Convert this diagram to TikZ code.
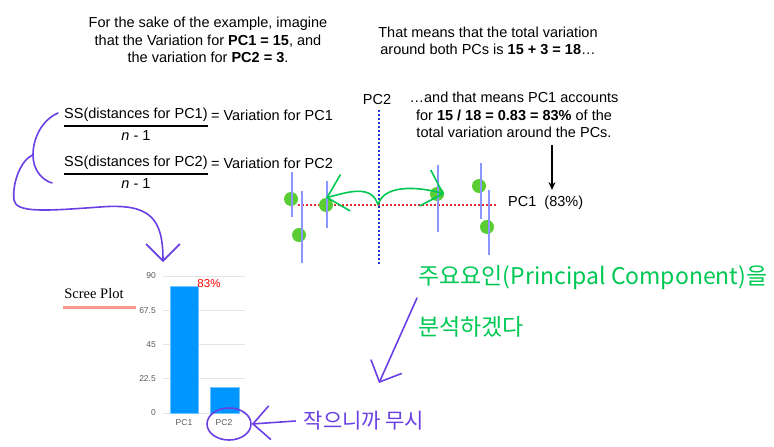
\documentclass[tikz,border=0pt]{standalone}
\usepackage{fontspec}
\setmainfont{Liberation Sans}
\newfontfamily\krfont{Noto Sans CJK KR}
\newfontfamily\screefont{Liberation Serif}
\usetikzlibrary{arrows.meta, positioning, calc, shapes.geometric}
\definecolor{C_DOT}{HTML}{5ACD32}
\definecolor{C_RES}{HTML}{8C96FF}
\definecolor{C_PCB}{HTML}{2233D8}
\definecolor{C_PCA}{HTML}{E03030}
\definecolor{C_PEN}{HTML}{00C853}
\definecolor{C_INK}{HTML}{6A3FE3}
\definecolor{C_BAR}{HTML}{0096FF}
\definecolor{C_SALMON}{HTML}{F59A8E}

\begin{document}
\begin{tikzpicture}[
  x=1pt, y=-1pt,
  txt/.style={inner sep=0pt, align=center, font=\fontsize{14.5}{17.5}\selectfont},
  pt/.style={circle, fill=C_DOT, minimum size=14pt, inner sep=0pt},
  res/.style={C_RES, line width=2.5pt},
  pcaxis/.style={line width=2pt, dash pattern=on 2pt off 2pt},
  axlab/.style={inner sep=0pt, font=\fontsize{8.5}{9}\selectfont, text=black!65},
  grid line/.style={black!10, line width=0.6pt},
  barfill/.style={fill=C_BAR, draw=C_BAR!55, line width=0.6pt},
  penarr/.style={C_PEN, line width=1.6pt, -{Straight Barb[scale=4]}},
  inkline/.style={C_INK, line width=1.6pt, line cap=round},
  inkarr/.style={inkline, -{Straight Barb[scale=3.6]}},
  blackarr/.style={-{Stealth[length=8pt, width=7pt]}, line width=1.6pt},
]
\useasboundingbox (0,0) rectangle (774,447);

%% Text at the top
\node[txt] (intro) at (208,40)
  {For the sake of the example, imagine\\
   that the Variation for \textbf{PC1 = 15}, and\\
   the variation for \textbf{PC2 = 3}.};
\node[txt] (total) at (488,41)
  {That means that the total variation\\
   around both PCs is \textbf{15 + 3 = 18}…};

%% The two fractions
\node[txt, anchor=west] (ss1) at (64,115) {SS(distances for PC1)};
\draw[line width=1.3pt] ($(ss1.south west)+(0,4)$) -- ($(ss1.south east)+(0,4)$);
\node[txt, below=8pt of ss1] (n1) {\textit{n} - 1};
\node[txt, right=3pt of ss1] (var1) {= Variation for PC1};

\node[txt, anchor=west] (ss2) at (64,163) {SS(distances for PC2)};
\draw[line width=1.3pt] ($(ss2.south west)+(0,4)$) -- ($(ss2.south east)+(0,4)$);
\node[txt, below=8pt of ss2] (n2) {\textit{n} - 1};
\node[txt, right=3pt of ss2] (var2) {= Variation for PC2};

%% The PCs
\node[txt] (pc2lab) at (377,100) {PC2};
\coordinate (pc2bot) at (379,266);
\draw[pcaxis, C_PCB] ([xshift=2pt, yshift=-5pt]pc2lab.south) -- (pc2bot);

\node[txt] (share) at (514,115)
  {…and that means PC1 accounts\\
   for \textbf{15 / 18 = 0.83 = 83\%} of the\\
   total variation around the PCs.};
\node[txt, anchor=west] (pc1lab) at (508,203) {PC1\ \ (83\%)};
\coordinate (pc1start) at (298,205);
\draw[pcaxis, C_PCA] (pc1start) -- ([xshift=-11pt]pc1start -| pc1lab.west);
\coordinate (sharefoot) at (552,145);
\draw[blackarr] (sharefoot) -- ([yshift=6pt]sharefoot |- pc1lab.north);

%% Points and their distances to PC1
\foreach \i/\px/\py in {1/291/199, 2/299/235, 3/326/205, 4/437/194, 5/479/186, 6/487/227}
  \node[pt] (p\i) at (\px,\py) {};
\foreach \lx/\ltop/\lbot in {292/172/217, 302/191/263, 327/181/228,
                             438/165/232, 481/163/219, 489/190/255}
  \draw[res] (\lx,\ltop) -- (\lx,\lbot);

%% Green arrows out from the origin
\coordinate (orig) at (378,205);
\draw[penarr] (orig) .. controls (372,184) and (348,192) .. (p3.north);
\draw[penarr] (orig) .. controls (384,182) and (425,188) .. (p4.east);

%% Scree plot
\node[inner sep=0pt, font=\screefont\fontsize{14.5}{16}\selectfont] (screetitle) at (94,294) {Scree Plot};
\draw[C_SALMON, line width=3pt] ($(screetitle.south west)+(-1,8)$) -- ++(73,0);
\foreach \v/\lab in {0/0, 22.5/22.5, 45/45, 67.5/67.5, 90/90} {
  \draw[grid line] (163,413-\v*1.522) -- (245,413-\v*1.522);
  \node[axlab, anchor=east] at (156,413-\v*1.522) {\lab};
}
\draw[barfill] (170,413) rectangle (198,413-83*1.522);
\draw[barfill] (210,413) rectangle (239,413-17*1.522);
\node[axlab] (xpc1) at (184,423) {PC1};
\node[axlab] (xpc2) at (224,423) {PC2};
\node[inner sep=0pt, text=red, font=\fontsize{11.5}{12}\selectfont] (pct) at (209,284) {83\%};

%% Purple ink
\coordinate (bracetop) at (58,113);
\coordinate (braceknot) at (33,155);
\coordinate (bracebot) at (52,183);
\coordinate (charttop) at (163,262);
\draw[inkline] (bracetop) .. controls (42,120) and (33,138) .. (braceknot)
  .. controls (33,170) and (42,180) .. (bracebot);
\draw[inkarr] (braceknot) .. controls (20,160) and (12,185) .. (14,200)
  .. controls (16,213) and (45,211) .. (100,207)
  .. controls (150,203) and (163,218) .. (charttop);

\node[draw=C_INK, line width=1.6pt, ellipse, minimum width=44pt, minimum height=32pt,
      inner sep=0pt] (ignore) at (229,424) {};
\node[inner sep=0pt, text=C_INK, font=\krfont\fontsize{21}{22}\selectfont] (ignoretxt) at (364,421) {작으니까 무시};
\draw[inkarr] ([xshift=-8pt]ignoretxt.west) -- (ignore.east);

%% Green note
\node[inner sep=0pt, anchor=west, text=C_PEN, font=\krfont\fontsize{23}{24}\selectfont] (hint1) at (418,278)
  {주요요인(Principal Component)을};
\node[inner sep=0pt, anchor=west, text=C_PEN, font=\krfont\fontsize{23}{24}\selectfont] (hint2) at (418,327)
  {분석하겠다};
\coordinate (hintfoot) at (417,298);
\coordinate (hinttip) at (379,383);
\draw[inkarr] (hintfoot) -- (hinttip);

\end{tikzpicture}
\end{document}
